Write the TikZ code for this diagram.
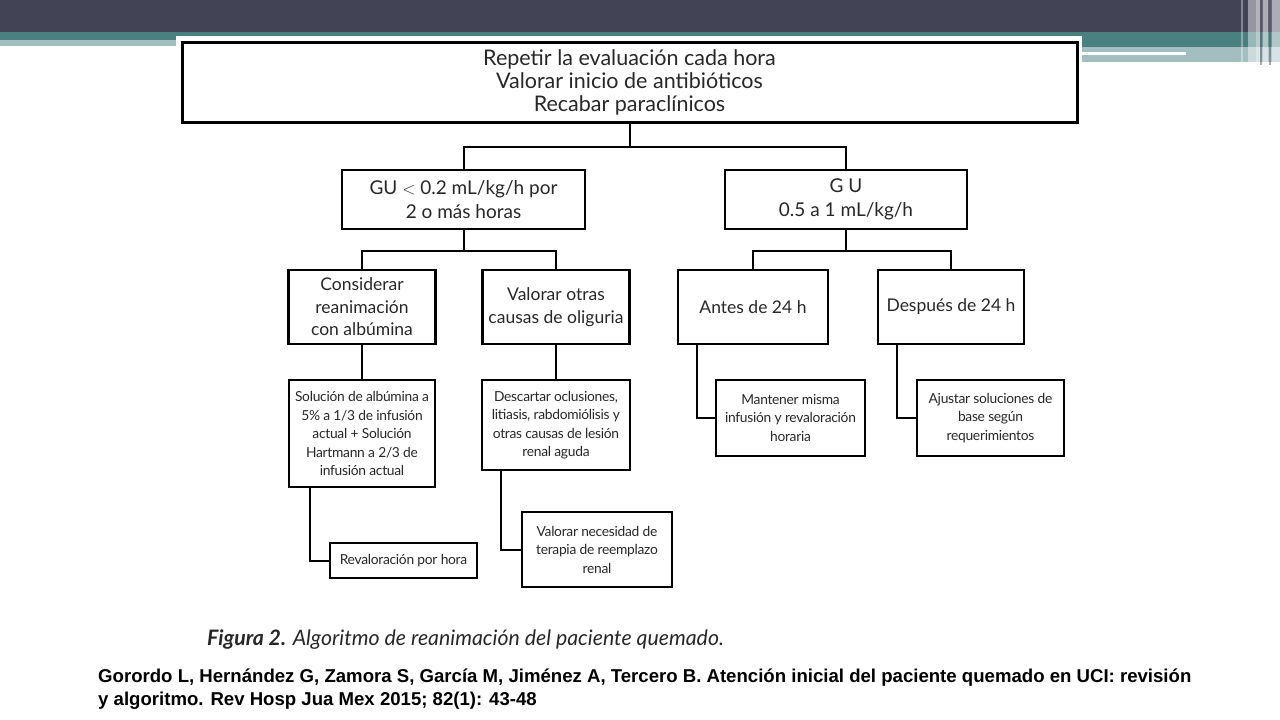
\documentclass[tikz,border=0pt]{standalone}
\usepackage{fontspec}
\setmainfont{Lato}
\newfontfamily\figfont{Lato}
\newfontfamily\smallfont[LetterSpace=-2]{Lato}
\newfontfamily\citefont{Liberation Sans}
\definecolor{darkbar}{RGB}{66,68,85}
\definecolor{tealband}{RGB}{74,128,128}
\definecolor{lightteal}{RGB}{163,190,192}
\definecolor{boxtext}{RGB}{40,40,40}
\tikzset{
  box/.style={draw=black, line width=2.2pt, fill=white, inner sep=0pt, align=center, text=boxtext},
  bigbox/.style={box, font=\figfont\fontsize{21.5}{23}\selectfont},
  midbox/.style={box, font=\figfont\fontsize{19}{24}\selectfont},
  rowbox/.style={box, font=\figfont\fontsize{17.5}{22.5}\selectfont},
  smallbox/.style={box, font=\smallfont\fontsize{13.8}{18.5}\selectfont},
  conn/.style={draw=black, line width=2pt}
}
\begin{document}
\begin{tikzpicture}[x=1pt,y=-1pt]
\useasboundingbox (0,0) rectangle (1280,720);
\fill[white] (0,0) rectangle (1280,720);
% slide header
\fill[darkbar] (0,0) rectangle (1280,32);
\fill[tealband] (0,32) rectangle (1280,40);
\fill[lightteal] (0,40) rectangle (176,46);
\fill[tealband] (1082,32) rectangle (1280,47);
\fill[lightteal] (1082,47) rectangle (1280,62);
\fill[white] (1082,52) rectangle (1186,54.5);
% right stripes
\fill[white, opacity=0.35] (1241,0) rectangle (1243,62);
\fill[white, opacity=0.2] (1248,0) rectangle (1280,62);
\fill[white, opacity=0.3] (1248,0) rectangle (1256,62);
\fill[white, opacity=0.5] (1256,0) rectangle (1260,65);
\fill[darkbar, opacity=0.45] (1260,0) rectangle (1262,65);
\fill[white, opacity=0.45] (1263,0) rectangle (1268,65);
\fill[darkbar, opacity=0.45] (1269,0) rectangle (1271,65);
\fill[white, opacity=0.45] (1272,0) rectangle (1280,65);
% figure area
\fill[white] (176,36) rectangle (1082,720);

% nodes
\node[bigbox, line width=3pt, minimum width=895, minimum height=80] (top) at (629.5,82)
  {Repetir la evaluación cada hora\\Valorar inicio de antibióticos\\Recabar paraclínicos};
\node[midbox, minimum width=243, minimum height=59] (gul) at (463.5,199.5)
  {GU $<$ 0.2 mL/kg/h por\\2 o más horas};
\node[midbox, minimum width=242, minimum height=59] (gur) at (846,199.5)
  {G U\\0.5 a 1 mL/kg/h};
\node[rowbox, minimum width=147, minimum height=74] (c1) at (362,307)
  {Considerar\\reanimación\\con albúmina};
\node[rowbox, minimum width=147, minimum height=74] (c2) at (556,307)
  {Valorar otras\\causas de oliguria};
\node[rowbox, minimum width=150, minimum height=74] (a1) at (753,307)
  {Antes de 24 h};
\node[rowbox, minimum width=146, minimum height=74] (a2) at (951,307)
  {Después de 24 h};
\node[smallbox, minimum width=146, minimum height=107] (s1) at (362,433.5)
  {Solución de albúmina a\\5\% a 1/3 de infusión\\actual + Solución\\Hartmann a 2/3 de\\infusión actual};
\node[smallbox, minimum width=148, minimum height=90] (d1) at (556,425)
  {Descartar oclusiones,\\litiasis, rabdomiólisis y\\otras causas de lesión\\renal aguda};
\node[smallbox, minimum width=149, minimum height=76] (m1) at (790.5,418)
  {Mantener misma\\infusión y revaloración\\horaria};
\node[smallbox, minimum width=147, minimum height=76] (j1) at (990.5,418)
  {Ajustar soluciones de\\base según\\requerimientos};
\node[smallbox, minimum width=147, minimum height=35] (r1) at (403.5,560.5)
  {Revaloración por hora};
\node[smallbox, minimum width=150, minimum height=75] (v1) at (597,549.5)
  {Valorar necesidad de\\terapia de reemplazo\\renal};

% connectors
\draw[conn] (gul.north) -- ++(0,-22) coordinate (h1) -| (gur.north);
\draw[conn] (top.south) -- (top.south |- h1);
\draw[conn] (c1.north) -- ++(0,-18) coordinate (h2) -| (c2.north);
\draw[conn] (gul.south) -- (gul.south |- h2);
\draw[conn] (a1.north) -- ++(0,-18) coordinate (h3) -| (a2.north);
\draw[conn] (gur.south) -- (gur.south |- h3);
\draw[conn] (c1.south) -- (s1.north);
\draw[conn] (c2.south) -- (d1.north);
\draw[conn] ([xshift=20pt]a1.south west) |- (m1.west);
\draw[conn] ([xshift=20pt]a2.south west) |- (j1.west);
\draw[conn] ([xshift=22pt]s1.south west) |- (r1.west);
\draw[conn] ([xshift=20pt]d1.south west) |- (v1.west);

% caption
\node[anchor=west, inner sep=0pt, text=boxtext, font=\fontsize{21.3}{25}\selectfont\itshape] (cap) at (207,640)
  {\textbf{Figura 2.} Algoritmo de reanimación del paciente quemado.};
\node[anchor=north west, inner sep=0pt, align=left, text=black, font=\citefont\bfseries\fontsize{18.6}{23}\selectfont] (cite) at (98,669)
  {Gorordo L, Hernández G, Zamora S, García M, Jiménez A, Tercero B. Atención inicial del paciente quemado en UCI: revisión\\y algoritmo. Rev Hosp Jua Mex 2015; 82(1): 43-48};
\end{tikzpicture}
\end{document}
